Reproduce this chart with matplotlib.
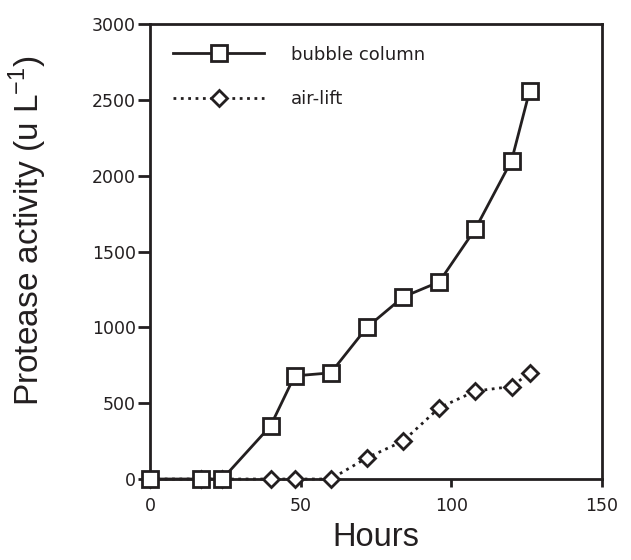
import matplotlib.pyplot as plt

plt.rcParams['font.family'] = ['Liberation Sans', 'DejaVu Sans']

# data
hours_bubble = [0, 17, 24, 40, 48, 60, 72, 84, 96, 108, 120, 126]
bubble_column = [0, 0, 0, 350, 680, 700, 1000, 1200, 1300, 1650, 2100, 2560]

hours_airlift = [0, 17, 24, 40, 48, 60, 72, 84, 96, 108, 120, 126]
air_lift = [0, 0, 0, 0, 0, 0, 140, 250, 470, 580, 610, 700]

x_ticks = [0, 50, 100, 150]
y_ticks = [0, 500, 1000, 1500, 2000, 2500, 3000]

ink = '#231f20'

fig = plt.figure(figsize=(6.31, 5.6), dpi=100)
ax = fig.add_axes([0.2377, 0.1446, 0.7163, 0.8125])

ax.plot(hours_airlift, air_lift, ls=':', lw=2, color=ink, marker='D', ms=8,
        mfc='white', mec=ink, mew=2, label='air-lift', clip_on=False, zorder=3)
ax.plot(hours_bubble, bubble_column, ls='-', lw=2, color=ink, marker='s', ms=11,
        mfc='white', mec=ink, mew=2, label='bubble column', clip_on=False, zorder=4)

ax.set_xlim(0, 150)
ax.set_ylim(0, 3000)
ax.set_xticks(x_ticks)
ax.set_yticks(y_ticks)
ax.tick_params(direction='out', width=2, color=ink, labelcolor=ink)
ax.tick_params(axis='x', length=6, pad=7)
ax.tick_params(axis='y', length=9, pad=1)
for lab in ax.get_xticklabels() + ax.get_yticklabels():
    lab.set_fontfamily('DejaVu Sans')
    lab.set_fontsize(12.5)
for s in ax.spines.values():
    s.set_linewidth(2)
    s.set_color(ink)

ax.set_xlabel('Hours', fontsize=23.5, color=ink, labelpad=5)
ax.set_ylabel('Protease activity (u L$^{\\mathregular{-1}}$)', fontsize=24,
              color=ink)
ax.yaxis.set_label_coords(-0.224, 0.545)

h, l = ax.get_legend_handles_labels()
ax.legend(h[::-1], l[::-1], loc='upper left', bbox_to_anchor=(0.004, 1.0),
          frameon=False, handlelength=5.0, handletextpad=1.5,
          labelspacing=1.45, borderaxespad=0.8, labelcolor=ink,
          prop={'family': 'DejaVu Sans', 'size': 13})

fig.savefig('out.png', dpi=100)
